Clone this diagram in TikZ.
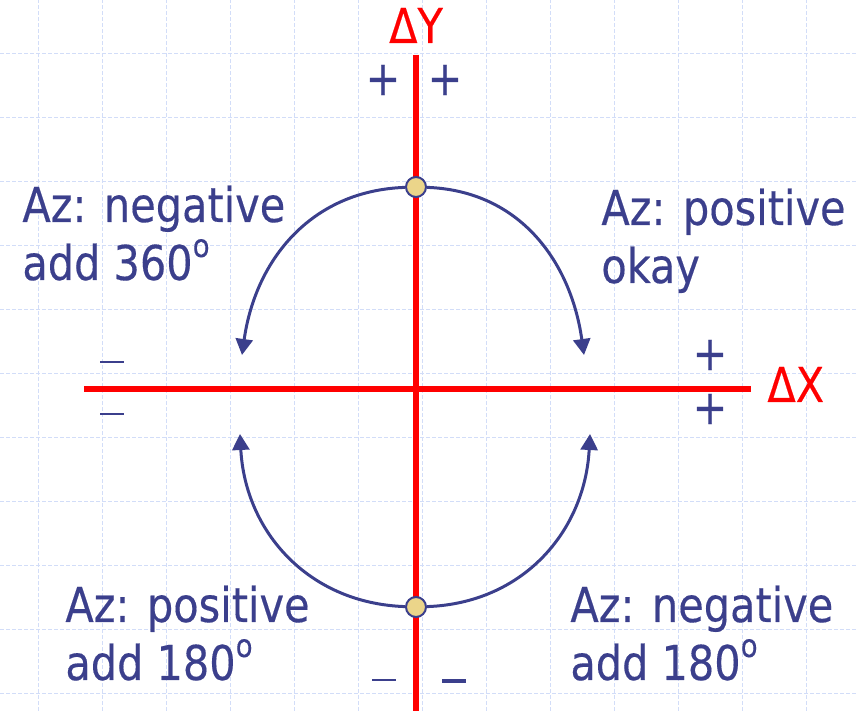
\documentclass[tikz,border=0pt]{standalone}
\usepackage{fontspec}
\setmainfont{DejaVu Sans Condensed}[FakeStretch=0.96, FakeBold=0.3]
\usetikzlibrary{arrows.meta}
\definecolor{azblue}{HTML}{3B3F8C}
\definecolor{axisred}{HTML}{FF0000}
\definecolor{gridblue}{HTML}{D2DDF8}
\definecolor{pointfill}{HTML}{EBD58A}
\newcommand{\azdeg}{\raisebox{11.5pt}{\fontsize{16}{16}\selectfont o}}

\begin{document}
\begin{tikzpicture}[
      x=0.5pt, y=0.5pt,
      every node/.style={font=\fontsize{24}{29}\selectfont},
      gridline/.style={draw=gridblue, line width=0.5pt, dash pattern=on 2pt off 1pt},
      axis/.style={draw=axisred, line width=3pt},
      axislabel/.style={text=axisred, inner sep=0pt},
      sign/.style={text=azblue, inner sep=0pt},
      azlabel/.style={text=azblue, align=left, inner sep=0pt, anchor=base west},
      turn/.style={draw=azblue, line width=1.5pt, looseness=1.04,
                   -{Triangle[length=8pt, width=8.5pt]}},
      point/.style={circle, draw=azblue, line width=1pt, fill=pointfill,
                    minimum size=10pt, inner sep=0pt},
    ]
    \useasboundingbox (0,0) rectangle (857,711);

    % background grid
    \foreach \gx in {38,102,...,806}
      \draw[gridline] (\gx,0) -- (\gx,711);
    \foreach \gy in {17,81,...,657}
      \draw[gridline] (0,\gy) -- (857,\gy);

    % axes
    \draw[axis] (84,322) -- (751,322);
    \draw[axis] (416,656) -- (416,0);
    \node[axislabel, anchor=base] (dy) at (416,668) {ΔY};
    \node[axislabel, anchor=base west] (dx) at (767,309) {ΔX};

    % signs of the quadrants
    \node[sign] (pyl) at (383,631) {+};
    \node[sign] (pyr) at (445,631) {+};
    \node[sign] (pxu) at (710,356) {+};
    \node[sign] (pxd) at (710,302) {+};
    \node[sign] (mxu) at (112,349) {\rule{12pt}{1.3pt}};
    \node[sign] (mxd) at (112,297) {\rule{12pt}{1.3pt}};
    \node[sign] (myl) at (384,31)  {\rule{12pt}{1.3pt}};
    \node[sign] (myr) at (454,30)  {\rule{12pt}{2pt}};

    % azimuth points
    \node[point] (ptop) at (416,524) {};
    \node[point] (pbot) at (416,104) {};
    \coordinate (tipnw) at (242,356);
    \coordinate (tipne) at (584,356);
    \coordinate (tipsw) at (240,277);
    \coordinate (tipse) at (590,277);
    \draw[turn] (ptop) to[out=182, in=82]  (tipnw);
    \draw[turn] (ptop) to[out=-2,  in=98]  (tipne);
    \draw[turn] (pbot) to[out=178, in=-87] (tipsw);
    \draw[turn] (pbot) to[out=2,   in=-93] (tipse);

    % quadrant rules
    \node[azlabel] (qnw) at (22,431)  {Az: negative\\add 360\azdeg};
    \node[azlabel] (qne) at (601,428) {Az: positive\\okay};
    \node[azlabel] (qsw) at (65,31)   {Az: positive\\add 180\azdeg};
    \node[azlabel] (qse) at (570,31)  {Az: negative\\add 180\azdeg};
  \end{tikzpicture}
\end{document}
